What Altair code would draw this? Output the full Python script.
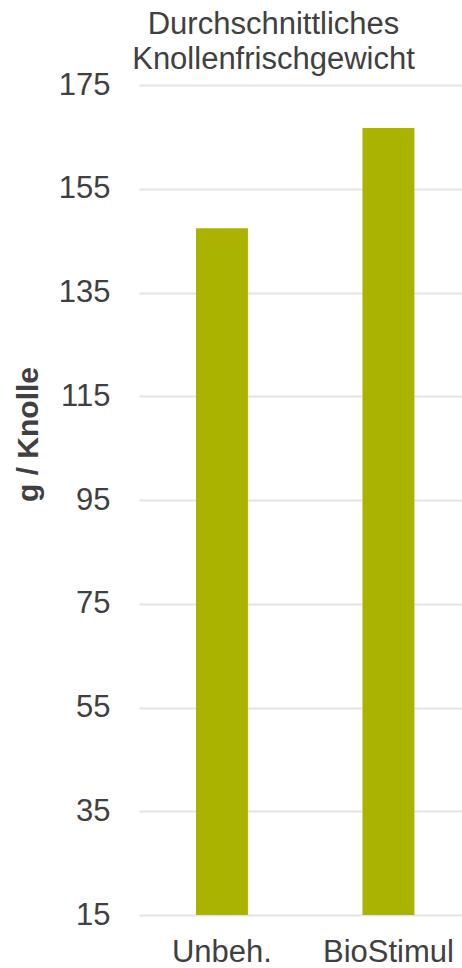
import altair as alt
import pandas as pd

categories = ["Unbeh.", "BioStimul"]
values = [147.4, 166.7]
y_ticks = [15, 35, 55, 75, 95, 115, 135, 155, 175]

df = pd.DataFrame({"Variante": categories, "Gewicht": values})

FONT = "Liberation Sans"
TXT = "#404040"

chart = alt.Chart(df).mark_bar(color="#AAB400", clip=True).encode(
    x=alt.X("Variante:N", sort=categories,
            scale=alt.Scale(paddingInner=0.688, paddingOuter=0.314, align=0.545),
            axis=alt.Axis(title=None, labelAngle=0, labelFontSize=31, labelColor=TXT,
                          labelFont=FONT, ticks=False, domain=False, labelPadding=22)),
    y=alt.Y("Gewicht:Q",
            scale=alt.Scale(domain=[15, 175], nice=False, zero=False),
            axis=alt.Axis(values=y_ticks, title="g / Knolle", titleFontSize=30,
                          titleFont=FONT, titleFontWeight="bold", titleColor=TXT,
                          titleAngle=-90, titleX=-111, titleY=349, titleAlign="center",
                          titleBaseline="middle",
                          labelFontSize=31, labelColor=TXT, labelFont=FONT,
                          ticks=False, domain=False, labelPadding=29,
                          gridColor="#e4e4e4", gridWidth=2)),
).properties(
    width=323,
    height=830,
    title=alt.TitleParams(["Durchschnittliches", "Knollenfrischgewicht"], fontSize=31,
                          font=FONT, fontWeight="normal", color=TXT, anchor="middle",
                          dx=-27, offset=0, dy=7, lineHeight=35),
    autosize=alt.AutoSizeParams(type="none"),
    padding={"left": 139, "top": 85, "right": 0, "bottom": 53},
).configure_view(stroke=None)

chart.save("out.html", embed_options={"renderer": "svg", "actions": False})
